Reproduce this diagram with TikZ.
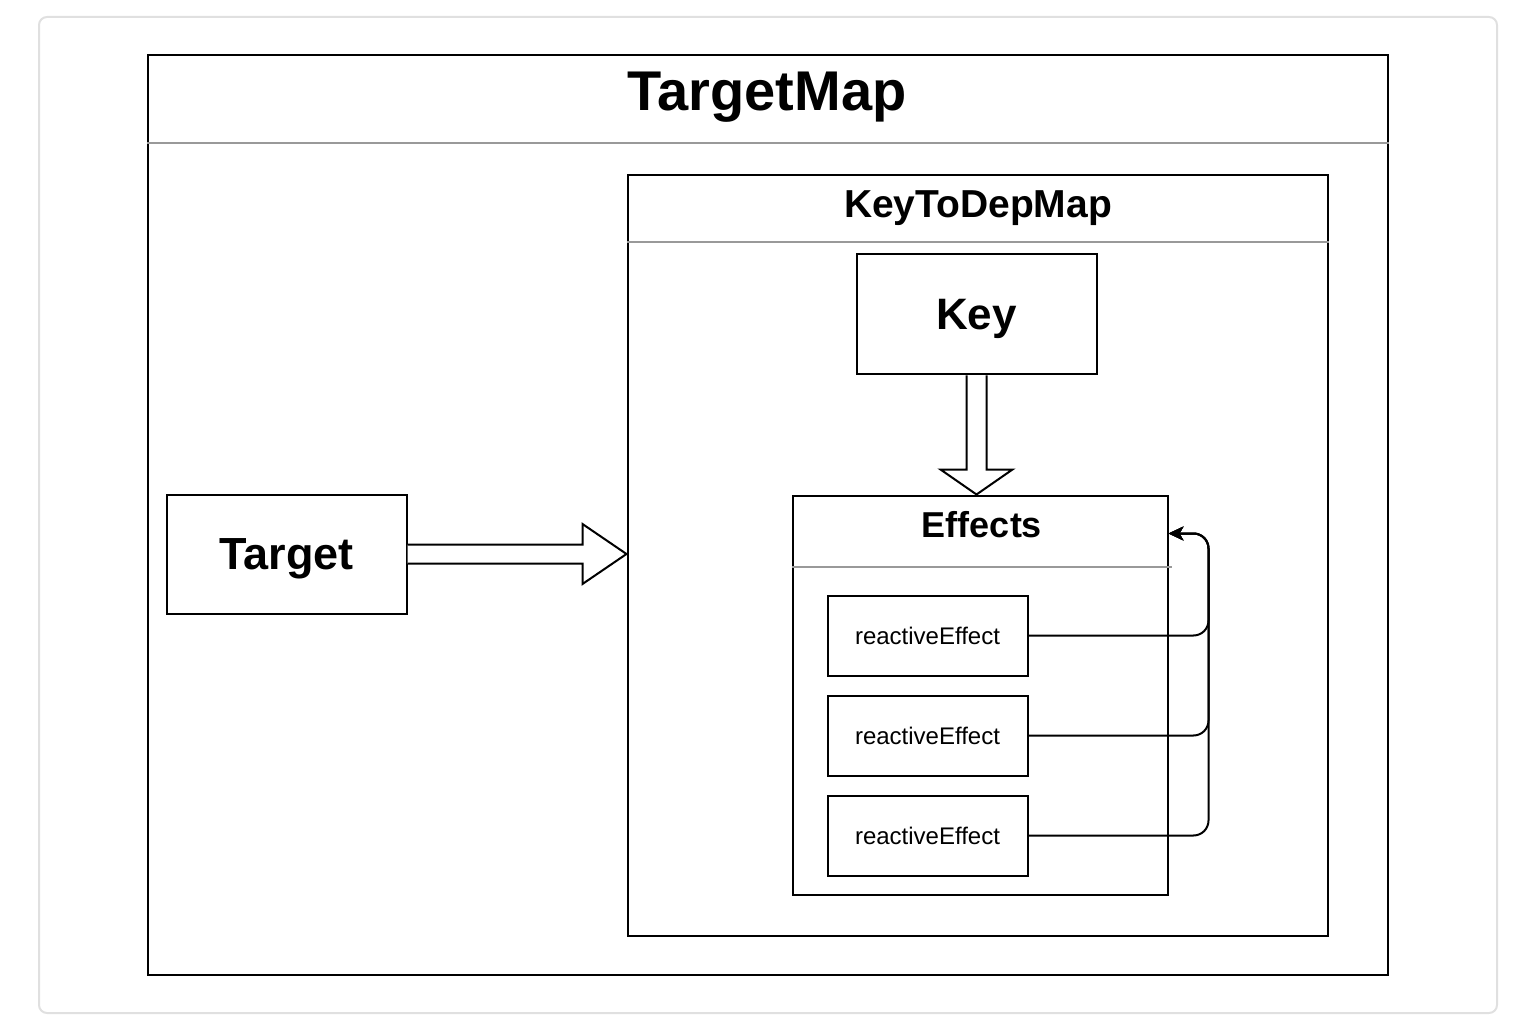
\documentclass[tikz,border=0pt]{standalone}
\usepackage{fontspec}
\setmainfont{Liberation Sans}
\usetikzlibrary{positioning,calc,arrows.meta}

\begin{document}
\begin{tikzpicture}[x=0.5pt,y=-0.5pt,
    container/.style={draw, line width=1pt, fill=white, inner sep=0pt, anchor=north west},
    box/.style={draw, line width=1pt, fill=white, inner sep=0pt, text depth=0pt},
    divider/.style={draw=black!40, line width=1pt},
    effectbox/.style={box, minimum width=100pt, minimum height=40pt, font=\fontsize{12}{14}\selectfont},
    title/.style={anchor=base, inner sep=0pt, font=\bfseries},
    fatarrow/.style={draw, line width=1pt, fill=white, line join=miter},
    link/.style={line width=1pt, rounded corners=7.5pt, -{Stealth[length=7.5pt,width=7pt,inset=2pt]}}]

    \useasboundingbox (0,0) rectangle (1538,1032);

    % Frame
    \draw[draw=black!12, line width=1pt, rounded corners=4pt] (39,17) rectangle (1497,1013);

    % TargetMap container
    \node[container, minimum width=620pt, minimum height=459.5pt] (targetmap) at (146.5,54.5) {};
    \draw[divider] (targetmap.west |- 0,143) -- (targetmap.east |- 0,143);
    \node[title, font=\fontsize{28}{30}\selectfont\bfseries] (tmtitle) at (767,111) {TargetMap};

    % Target
    \node[box, minimum width=120pt, minimum height=59.5pt, font=\fontsize{22.5}{24}\selectfont\bfseries] (target) at (286.5,554) {Target};

    % KeyToDepMap container
    \node[container, minimum width=350pt, minimum height=380pt] (keymap) at (626.5,174.5) {};
    \draw[divider] (keymap.west |- 0,242) -- (keymap.east |- 0,242);
    \node[title, font=\fontsize{19.5}{21}\selectfont\bfseries] (kmtitle) at (978,218) {KeyToDepMap};

    % Key
    \node[box, minimum width=120pt, minimum height=60pt, font=\fontsize{22}{24}\selectfont\bfseries] (key) at (976.5,314.5) {Key};

    % Effects
    \node[container, minimum width=187.5pt, minimum height=199.5pt] (effects) at (791.5,494.5) {};
    \draw[divider] (effects.west |- 0,567) -- ($(effects.east |- 0,567)+(3,0)$);
    \node[title, font=\fontsize{18}{20}\selectfont\bfseries] (fxtitle) at (982,537) {Effects};

    \node[effectbox, anchor=north west] (eff1) at (826.5,594.5) {reactiveEffect};
    \node[effectbox, below=9pt of eff1] (eff2) {reactiveEffect};
    \node[effectbox, below=9pt of eff2] (eff3) {reactiveEffect};

    % Fat arrows
    \coordinate (tip1) at (target.east -| keymap.west);
    \draw[fatarrow] ($(target.east)+(0,-9.5)$) -- ($(tip1)+(-44,-9.5)$) -- ($(tip1)+(-44,-30)$)
        -- (tip1) -- ($(tip1)+(-44,30)$) -- ($(tip1)+(-44,9.5)$) -- ($(target.east)+(0,9.5)$);
    \coordinate (tip2) at (key.south |- effects.north);
    \draw[fatarrow] ($(key.south)+(-10,0)$) -- ($(tip2)+(-10,-25)$) -- ($(tip2)+(-36,-25)$)
        -- (tip2) -- ($(tip2)+(36,-25)$) -- ($(tip2)+(10,-25)$) -- ($(key.south)+(10,0)$);

    % Links back to Effects
    \coordinate (fxin) at ($(effects.north east)+(0,39)$);
    \coordinate (bend) at ($(fxin)+(40,0)$);
    \foreach \i in {1,2,3}
        \draw[link] (eff\i.east) -- (eff\i.east -| bend) -- (bend) -- (fxin);

\end{tikzpicture}
\end{document}
